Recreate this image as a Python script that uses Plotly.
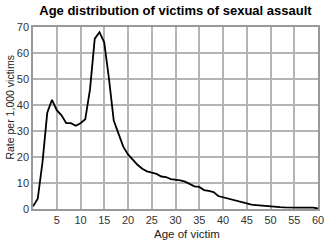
import plotly.graph_objects as go

ages = list(range(0, 61))
rates = [1, 4, 18, 37, 42, 38, 36, 33, 33, 32,
         33, 34.5, 46, 65.5, 68, 64, 50, 34, 29, 24,
         21, 19, 17, 15.5, 14.5, 14, 13.5, 12.5, 12.3, 11.5,
         11.3, 11, 10.5, 9.5, 8.7, 8.5, 7.3, 7, 6.5, 5,
         4.5, 4.2, 3.5, 3, 2.5, 2.1, 1.7, 1.5, 1.3, 1.2,
         1.0, 0.9, 0.7, 0.6, 0.5, 0.5, 0.5, 0.5, 0.6, 0.5, 0.2]
x_ticks = [5, 10, 15, 20, 25, 30, 35, 40, 45, 50, 55, 60]
y_ticks = [0, 10, 20, 30, 40, 50, 60, 70]

fig = go.Figure(go.Scatter(x=ages, y=rates, mode="lines",
                           line=dict(color="black", width=1.8)))

font = "Liberation Sans, Arial, sans-serif"
fig.update_layout(
    width=331, height=243,
    margin=dict(l=33, r=7, t=27, b=34),
    paper_bgcolor="white", plot_bgcolor="white",
    showlegend=False,
    title=dict(text="<b>Age distribution of victims of sexual assault</b>",
               x=0.53, xanchor="center", y=0.955, yanchor="middle",
               font=dict(family=font, size=13, color="black")),
    font=dict(family=font, size=11, color="#222"),
    annotations=[
        dict(text="Age of victim", xref="paper", yref="paper",
             x=0.54, y=-0.135, xanchor="center", yanchor="middle",
             showarrow=False, font=dict(family=font, size=11.5, color="#222")),
        dict(text="Rate per 1,000 victims", xref="paper", yref="paper",
             x=-0.079, y=0.56, xanchor="center", yanchor="middle",
             textangle=-90, showarrow=False,
             font=dict(family=font, size=10.5, color="#222")),
    ],
)
fig.update_xaxes(range=[0, 60], tickvals=x_ticks, showgrid=True,
                 gridcolor="#b4b4b4", gridwidth=1.5, showline=True,
                 linecolor="#999", linewidth=1.5, mirror=True, zeroline=False,
                 ticks="", ticklen=0,
                 tickfont=dict(family=font, size=11, color="#333"))
fig.update_yaxes(range=[0, 70], tickvals=y_ticks, showgrid=True,
                 gridcolor="#b4b4b4", gridwidth=1.5, showline=True,
                 linecolor="#999", linewidth=1.5, mirror=True, zeroline=False,
                 ticks="", ticklen=0,
                 tickfont=dict(family=font, size=11, color="#333"))

fig.write_html("out.html")
